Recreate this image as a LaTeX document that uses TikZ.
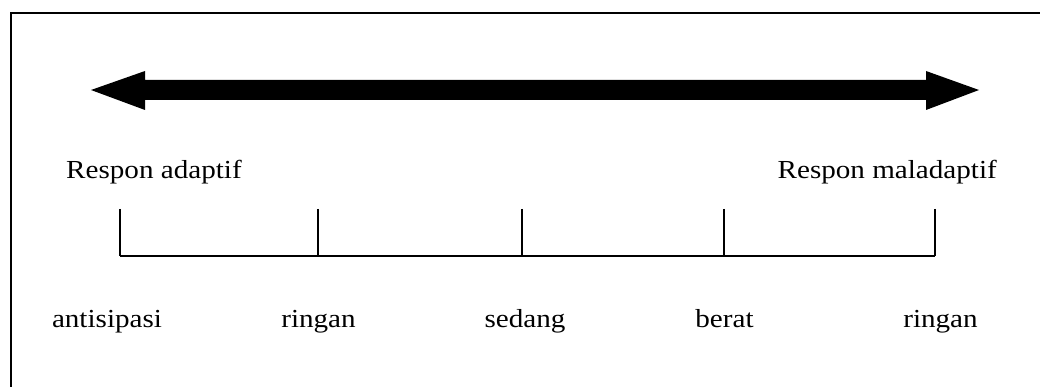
\documentclass[tikz,border=0pt]{standalone}
\usepackage{fontspec}
\usepackage{graphicx}
\setmainfont{Liberation Serif}
\newcommand{\widetext}[1]{\scalebox{1.12}[1]{#1}}
\tikzset{
  frame/.style={line width=2.2pt, black},
  scaleline/.style={line width=1.6pt, black},
  label/.style={inner sep=0pt, font=\fontsize{26}{31}\selectfont},
}
\begin{document}
\begin{tikzpicture}[x=1pt, y=-1pt]
  \useasboundingbox (0,0) rectangle (1040,387);
  % open frame: top and left edges
  \draw[frame] (1041,13) -- (11,13) -- (11,388);
  % double-headed arrow
  \fill[black] (91,90) -- (145,71) -- (145,80) -- (926,80) -- (926,71)
     -- (979,90) -- (926,110) -- (926,100) -- (145,100) -- (145,110) -- cycle;
  % end labels
  \node[label, anchor=base west] (adaptif) at (66,179) {\widetext{Respon adaptif}};
  \node[label, anchor=base east] (maladaptif) at (997,179) {\widetext{Respon maladaptif}};
  % scale ticks
  \foreach \n/\x in {a/120, b/318, c/522, d/724, e/935} {
    \coordinate (top\n) at (\x,209);
    \coordinate (bot\n) at (\x,256);
    \draw[scaleline] (top\n) -- (bot\n);
  }
  \draw[scaleline] (bota) -- (bote);
  % level labels
  \node[label, anchor=base] (antisipasi) at (107,327) {\widetext{antisipasi}};
  \node[label, anchor=base] (ringan1) at (318.5,327) {\widetext{ringan}};
  \node[label, anchor=base] (sedang) at (525,327) {\widetext{sedang}};
  \node[label, anchor=base] (berat) at (724.5,327) {\widetext{berat}};
  \node[label, anchor=base] (ringan2) at (940.5,327) {\widetext{ringan}};
\end{tikzpicture}
\end{document}
